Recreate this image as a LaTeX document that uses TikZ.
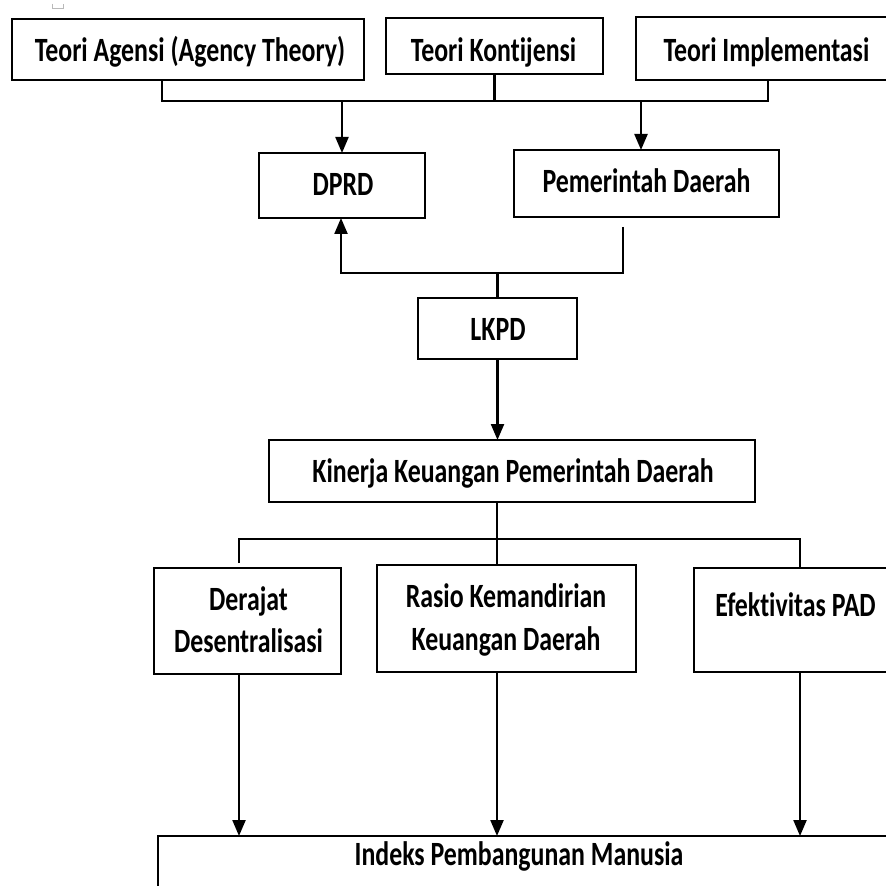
\documentclass[tikz,border=0pt]{standalone}
\usepackage{fontspec}
\newfontfamily\lblfont{Carlito}[FakeStretch=0.76,Ligatures={NoCommon}]
\usetikzlibrary{arrows.meta}
\begin{document}
\begin{tikzpicture}[x=0.5pt,y=-0.5pt,
  box/.style={draw, line width=1.3pt, inner sep=0pt, outer sep=0pt},
  lbl/.style={anchor=base, inner sep=0pt, font=\lblfont\bfseries\fontsize{17}{20}\selectfont},
  conn/.style={line width=1.1pt},
  arr/.style={conn, -{Triangle[length=8pt,width=6.5pt]}}]
\clip (0,0) rectangle (886,886);
\fill[white] (0,0) rectangle (886,886);
% small mark
\draw[gray!55, line width=0.5pt] (52,4) -- (52,9) -- (63,9) -- (63,4);
% boxes
\node[box, minimum width=176pt, minimum height=30.5pt] (ta) at (188,49.5) {};
\node[box, minimum width=108.5pt, minimum height=28pt] (tk) at (494.5,46) {};
\node[box, minimum width=131pt, minimum height=31.5pt] (ti) at (767,48.5) {};
\node[box, minimum width=83pt, minimum height=32.5pt] (dprd) at (342,185.5) {};
\node[box, minimum width=132.5pt, minimum height=33.5pt] (pd) at (646.5,183.5) {};
\node[box, minimum width=79.5pt, minimum height=30.5pt] (lkpd) at (497.5,328.5) {};
\node[box, minimum width=243pt, minimum height=31pt] (kk) at (512,471) {};
\node[box, minimum width=93.5pt, minimum height=53pt] (dd) at (247.5,621) {};
\node[box, minimum width=129.5pt, minimum height=53.5pt] (rk) at (506.5,618.5) {};
\node[box, minimum width=103pt, minimum height=52pt] (ep) at (797,620) {};
\node[box, minimum width=371pt, minimum height=42pt] (ipm) at (529,878) {};
% labels
\node[lbl] (ta-t) at (190,62) {Teori Agensi (Agency Theory)};
\node[lbl] (tk-t) at (493.5,62) {Teori Kontijensi};
\node[lbl] (ti-t) at (766.5,62) {Teori Implementasi};
\node[lbl] (dprd-t) at (343,196) {DPRD};
\node[lbl] (pd-t) at (646.5,193) {Pemerintah Daerah};
\node[lbl] (lkpd-t) at (498,341) {LKPD};
\node[lbl] (kk-t) at (513,482) {Kinerja Keuangan Pemerintah Daerah};
\node[lbl] (dd-t1) at (248.5,610) {Derajat};
\node[lbl] (dd-t2) at (248.5,652) {Desentralisasi};
\node[lbl] (rk-t1) at (506,607) {Rasio Kemandirian};
\node[lbl] (rk-t2) at (506,650) {Keuangan Daerah};
\node[lbl] (ep-t) at (795.5,616) {Efektivitas PAD};
\node[lbl] (ipm-t) at (519,865) {Indeks Pembangunan Manusia};
% coordinates
\coordinate (j1) at (162,101);
\coordinate (j2) at (768,101);
\coordinate (j3) at (641,101);
\coordinate (f1) at (623,227);
\coordinate (f2) at (341,273);
\coordinate (m) at (497,539);
\coordinate (h1) at (239,539);
\coordinate (h1d) at (239,563);
\coordinate (h2) at (800,539);
% top connectors
\draw[conn] (ta.south -| j1) -- (j1) -- (j2) -- (ti.south -| j2);
\draw[conn] (tk.south) -- (tk.south |- j1);
\draw[arr] (dprd.north |- j1) -- (dprd.north);
\draw[arr] (j3) -- (j3 |- pd.north);
% feedback
\draw[arr] (f1) -- (f1 |- f2) -- (f2) -- (f2 |- dprd.south);
\draw[conn] (lkpd.north |- f2) -- (lkpd.north);
\draw[arr] (lkpd.south) -- (lkpd.south |- kk.north);
% split
\draw[conn] (m |- kk.south) -- (m);
\draw[conn] (h1d) -- (h1) -- (h2) -- (h2 |- ep.north);
\draw[conn] (m) -- (m |- rk.north);
% bottom arrows
\draw[arr] (dd.south -| h1) -- (h1 |- ipm.north);
\draw[arr] (rk.south -| m) -- (m |- ipm.north);
\draw[arr] (ep.south -| h2) -- (h2 |- ipm.north);
\end{tikzpicture}
\end{document}
